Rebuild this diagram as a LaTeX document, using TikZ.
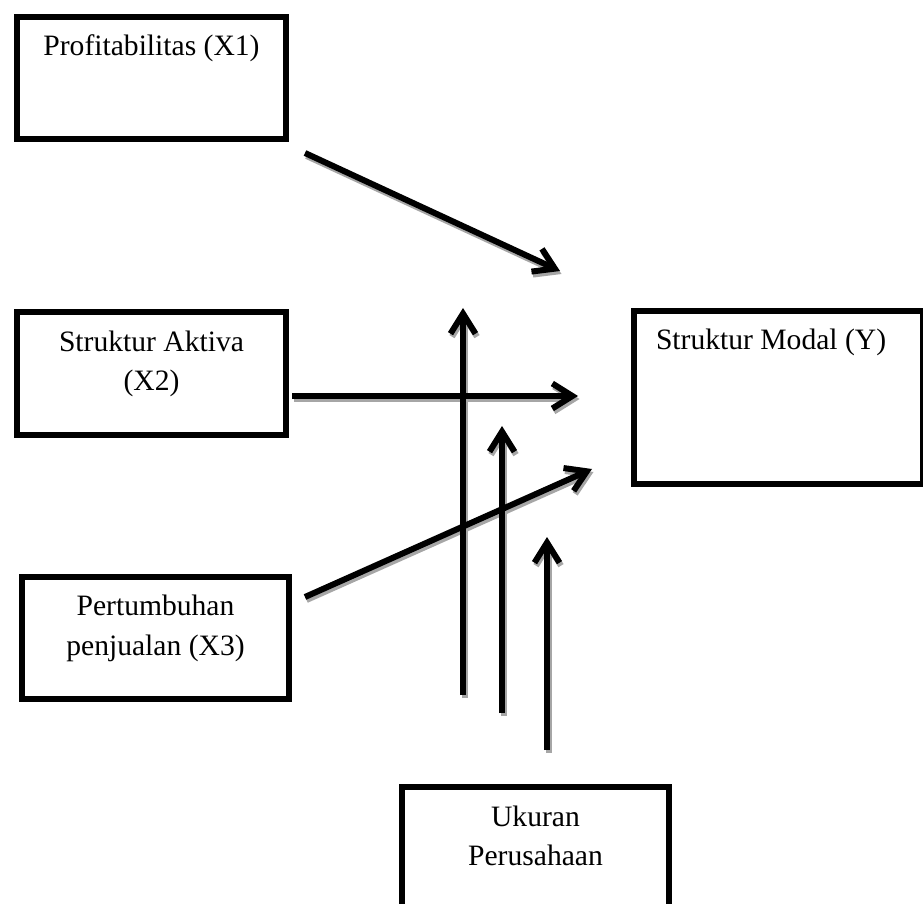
\documentclass[tikz,border=0pt]{standalone}
\usepackage{fontspec}
\setmainfont{Liberation Serif}
\usetikzlibrary{arrows.meta}
\newcommand{\boxtext}[4][\centering]{\parbox[t][#3][t]{#2}{#1\rule{0pt}{19.5pt}#4}}

\begin{document}
\begin{tikzpicture}[x=0.5pt,y=-0.5pt,
    font=\fontsize{14.8}{20}\selectfont,
    varbox/.style={draw,line width=3pt,inner sep=0pt,anchor=north west},
    link/.style={line width=3pt,-{Straight Barb[length=10pt,width=12.5pt]}},
    linkshadow/.style={link,draw=black!35}]
  \useasboundingbox (0,0) rectangle (923,904);
  % variables
  \node[varbox] (x1) at (14,14) {\boxtext{134.5pt}{61pt}{Profitabilitas (X1)}};
  \node[varbox] (x2) at (14,309) {\boxtext{134.5pt}{61.5pt}{Struktur Aktiva\\(X2)}};
  \node[varbox] (x3) at (19,574) {\boxtext{133.5pt}{61pt}{Pertumbuhan\\penjualan (X3)}};
  \node[varbox] (y) at (631,308) {\boxtext[\raggedright\hspace*{11pt}]{144.5pt}{86.5pt}{Struktur Modal (Y)}};
  \node[varbox] (uk) at (399,784) {\boxtext{133.5pt}{70pt}{Ukuran\\Perusahaan}};
  % free ends of the arrows
  \coordinate (x1s) at (305,153);  \coordinate (x1e) at (560,271);
  \coordinate (x2s) at (292,396);  \coordinate (x2e) at (578,396);
  \coordinate (x3s) at (305,597);  \coordinate (x3e) at (592,469);
  \coordinate (m1s) at (463,695);  \coordinate (m1e) at (463,308);
  \coordinate (m2s) at (502,713);  \coordinate (m2e) at (502,426);
  \coordinate (m3s) at (547,750);  \coordinate (m3e) at (547,537);
  % shadows first, then the arrows
  \foreach \s/\e in {x1s/x1e,x2s/x2e,x3s/x3e,m1s/m1e,m2s/m2e,m3s/m3e}
    \draw[linkshadow] ([shift={(1.5,3)}]\s) -- ([shift={(1.5,3)}]\e);
  \foreach \s/\e in {x1s/x1e,x2s/x2e,x3s/x3e,m1s/m1e,m2s/m2e,m3s/m3e}
    \draw[link] (\s) -- (\e);
\end{tikzpicture}
\end{document}
